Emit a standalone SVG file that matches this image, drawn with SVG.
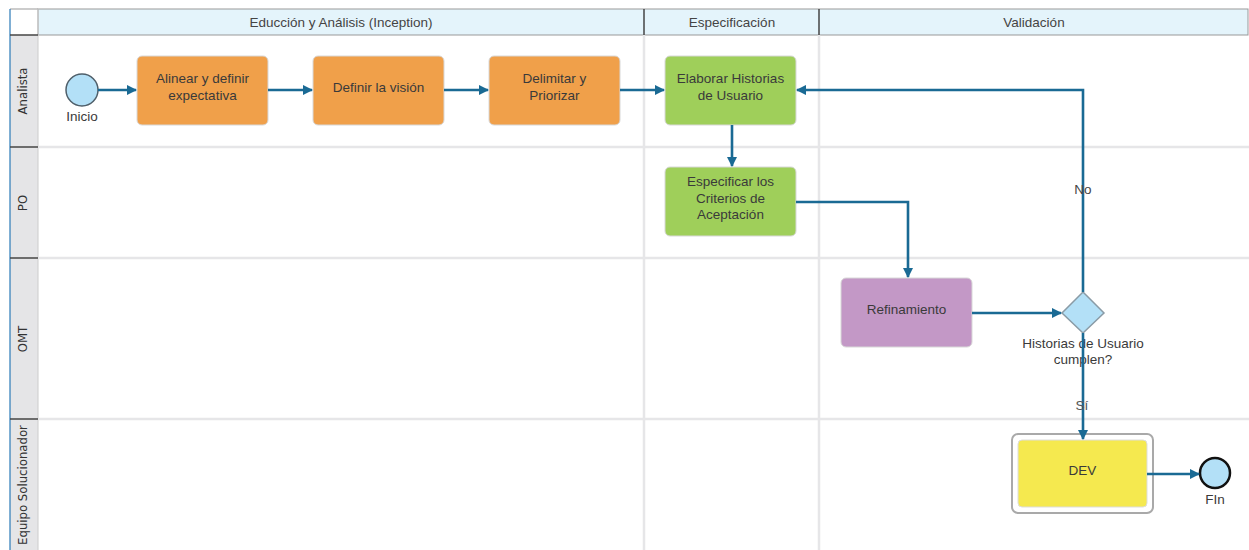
<svg xmlns="http://www.w3.org/2000/svg" width="1249" height="550" viewBox="0 0 1249 550">
<defs>
<style>
.t{font-family:"Liberation Sans",Arial,sans-serif;font-size:13.5px;fill:#3a3a3a;text-anchor:middle}
.h{font-family:"Liberation Sans",Arial,sans-serif;font-size:13.5px;fill:#444;text-anchor:middle}
.ln{font-family:"DejaVu Sans Condensed","DejaVu Sans",sans-serif;font-size:13px;fill:#333;text-anchor:middle}
.c{fill:none;stroke:#1a6a94;stroke-width:2.6}
.task{stroke:#d8d8d8;stroke-width:1}
.div{stroke:#e6e6e8;stroke-width:2.5}
</style>
<marker id="a" viewBox="0 0 10 10" refX="9" refY="5" markerWidth="4" markerHeight="4" orient="auto" markerUnits="strokeWidth">
<path d="M0,0 L10,5 L0,10 z" fill="#1a6a94"/>
</marker>
</defs>
<rect width="1249" height="550" fill="#fff"/>
<g id="pool">
<rect x="38" y="9" width="1210" height="26" fill="#e4f4fb" stroke="#999" stroke-width="1"/>
<rect x="10" y="35" width="28" height="515" fill="#e5e5e7"/>
<line x1="10" y1="9" x2="38" y2="9" stroke="#999"/>
<line x1="10" y1="9" x2="10" y2="550" stroke="#2a7ab8" stroke-width="1.2"/>
<line x1="38" y1="9" x2="38" y2="550" stroke="#ccc" stroke-width="1"/>
<line x1="644" y1="35" x2="644" y2="550" class="div"/>
<line x1="819" y1="35" x2="819" y2="550" class="div"/>
<line x1="38" y1="147" x2="1249" y2="147" class="div"/>
<line x1="38" y1="258" x2="1249" y2="258" class="div"/>
<line x1="38" y1="419" x2="1249" y2="419" class="div"/>
<line x1="644" y1="9" x2="644" y2="35" stroke="#444" stroke-width="1.5"/>
<line x1="819" y1="9" x2="819" y2="35" stroke="#444" stroke-width="1.5"/>
<line x1="10" y1="35" x2="38" y2="35" stroke="#444" stroke-width="1.5"/>
<line x1="10" y1="147" x2="38" y2="147" stroke="#444" stroke-width="1.5"/>
<line x1="10" y1="258" x2="38" y2="258" stroke="#444" stroke-width="1.5"/>
<line x1="10" y1="419" x2="38" y2="419" stroke="#444" stroke-width="1.5"/>
<text class="h" x="341" y="27">Educción y Análisis (Inception)</text>
<text class="h" x="732" y="27">Especificación</text>
<text class="h" x="1034" y="27">Validación</text>
<text class="ln" transform="translate(27,91) rotate(-90)">Analista</text>
<text class="ln" transform="translate(27,203) rotate(-90)">PO</text>
<text class="ln" transform="translate(27,339) rotate(-90)">OMT</text>
<text class="ln" transform="translate(27,485) rotate(-90)">Equipo Solucionador</text>
</g>
<g id="inicio">
<circle cx="82" cy="90" r="16" fill="#b3e0f7" stroke="#4f5f6a" stroke-width="1.5"/>
<text class="t" x="82" y="121">Inicio</text>
</g>
<g id="alinear">
<rect class="task" x="137" y="56" width="131" height="69" rx="5" fill="#f0a04a"/>
<text class="t" x="202.5" y="83">Alinear y definir</text>
<text class="t" x="202.5" y="100">expectativa</text>
</g>
<g id="definir">
<rect class="task" x="313" y="56" width="131" height="69" rx="5" fill="#f0a04a"/>
<text class="t" x="378.5" y="92">Definir la visión</text>
</g>
<g id="delimitar">
<rect class="task" x="489" y="56" width="131" height="69" rx="5" fill="#f0a04a"/>
<text class="t" x="554.5" y="83">Delimitar y</text>
<text class="t" x="554.5" y="100">Priorizar</text>
</g>
<g id="elaborar">
<rect class="task" x="665" y="56" width="131" height="69" rx="5" fill="#9fcf5a"/>
<text class="t" x="730.5" y="83">Elaborar Historias</text>
<text class="t" x="730.5" y="100">de Usuario</text>
</g>
<g id="especificar">
<rect class="task" x="665" y="167" width="131" height="69" rx="5" fill="#9fcf5a"/>
<text class="t" x="730.5" y="186">Especificar los</text>
<text class="t" x="730.5" y="203">Criterios de</text>
<text class="t" x="730.5" y="219">Aceptación</text>
</g>
<g id="refinamiento">
<rect class="task" x="841" y="278" width="131" height="69" rx="5" fill="#c398c6"/>
<text class="t" x="906.5" y="314">Refinamiento</text>
</g>
<g id="gateway">
<polygon points="1083,292 1104,313 1083,333 1062,313" fill="#b3e0f7" stroke="#8a9ba6" stroke-width="1.5"/>
<text class="t" x="1083" y="348">Historias de Usuario</text>
<text class="t" x="1083" y="364">cumplen?</text>
</g>
<g id="dev">
<rect x="1012" y="434" width="141" height="79" rx="6" fill="#fff" stroke="#a9a9a9" stroke-width="2"/>
<rect x="1018" y="440" width="129" height="67" rx="4" fill="#f5e94f" stroke="#ddd" stroke-width="1"/>
<text class="t" x="1082.5" y="475">DEV</text>
</g>
<g id="fin">
<circle cx="1215" cy="473" r="15" fill="#b3e0f7" stroke="#111" stroke-width="2.5"/>
<text class="t" x="1215" y="504">FIn</text>
</g>
<g id="connectors">
<line class="c" x1="98" y1="90" x2="136" y2="90" marker-end="url(#a)"/>
<line class="c" x1="268" y1="90" x2="312" y2="90" marker-end="url(#a)"/>
<line class="c" x1="444" y1="90" x2="488" y2="90" marker-end="url(#a)"/>
<line class="c" x1="620" y1="90" x2="664" y2="90" marker-end="url(#a)"/>
<line class="c" x1="732" y1="125" x2="732" y2="166" marker-end="url(#a)"/>
<polyline class="c" points="796,202 908,202 908,277" marker-end="url(#a)"/>
<line class="c" x1="972" y1="313" x2="1061" y2="313" marker-end="url(#a)"/>
<polyline class="c" points="1083,292 1083,90 797,90" marker-end="url(#a)"/>
<line class="c" x1="1083" y1="333" x2="1083" y2="439" marker-end="url(#a)"/>
<line class="c" x1="1147" y1="474" x2="1199" y2="474" marker-end="url(#a)"/>
<text class="t" x="1083" y="194" style="fill:#444">No</text>
<text class="t" x="1082" y="410" style="fill:#555">Sí</text>
</g>
</svg>
